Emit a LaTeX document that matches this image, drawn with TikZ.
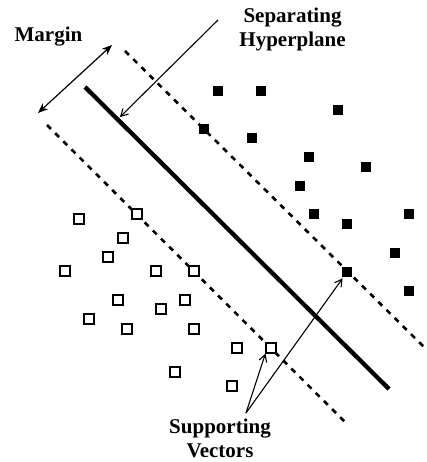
\documentclass[tikz,border=0pt]{standalone}
\usepackage{fontspec}
\setmainfont{Liberation Serif}
\usetikzlibrary{arrows.meta}
\begin{document}
\begin{tikzpicture}[x=1pt,y=-1pt,
  lbl/.style={font=\fontsize{21}{23.5}\selectfont\bfseries, inner sep=0pt, align=center},
  opensq/.style={draw=black, line width=1.2pt, minimum size=10pt, inner sep=0pt, fill=white},
  fullsq/.style={fill=black, minimum size=10.5pt, inner sep=0pt},
  hyper/.style={line width=4.3pt},
  marginline/.style={line width=2.6pt, dash pattern=on 5.5pt off 6pt},
  pointer/.style={line width=1.1pt, -{Straight Barb[length=7pt,width=8pt]}},
  dblarrow/.style={line width=1.2pt, {Stealth[length=10pt,width=8pt,inset=3pt]}-{Stealth[length=10pt,width=8pt,inset=3pt]}}
]
\useasboundingbox (0,0) rectangle (426,462);

% lines
\coordinate (h1) at (85,87);
\coordinate (h2) at (389,389);
\coordinate (u1) at (125,51);
\coordinate (u2) at (425,348);
\coordinate (l1) at (47,125);
\coordinate (l2) at (348,425);
\draw[hyper] (h1) -- (h2);
\draw[marginline] (u1) -- (u2);
\draw[marginline] (l1) -- (l2);

% open squares
\foreach \n/\px/\py in {o1/79/219, o2/137/214, o3/123/238, o4/108/257, o5/65/271,
  o6/156/271, o7/194/271, o8/118/300, o9/185/300, o10/161/309, o11/89/319,
  o12/127/329, o13/194/329, o14/175/372, o15/237/348, o16/271/348, o17/232/386}
  \node[opensq] (\n) at (\px,\py) {};

% filled squares
\foreach \n/\px/\py in {f1/218/91, f2/261/91, f3/338/110, f4/204/129, f5/252/138,
  f6/309/157, f7/366/167, f8/300/186, f9/314/214, f10/347/224, f11/409/214,
  f12/395/253, f13/347/272, f14/409/291}
  \node[fullsq] (\n) at (\px,\py) {};

% labels
\node[lbl, anchor=base] (margin) at (48.5,42) {Margin};
\node[lbl, anchor=north] (sep) at (292.5,8) {Separating\\Hyperplane};
\node[lbl, anchor=north] (sup) at (220,419) {Supporting\\Vectors};

% margin arrow
\coordinate (m1) at (38,113);
\coordinate (m2) at (112,45);
\draw[dblarrow] (m1) -- (m2);

% hyperplane pointer
\coordinate (s1) at (218,20);
\coordinate (s2) at (120,117);
\draw[pointer] (s1) -- (s2);

% support vector pointers
\coordinate (sv) at (246,413);
\draw[pointer] (sv) -- (o16.south west);
\draw[pointer] (sv) -- ([xshift=1pt,yshift=-1pt]f13.south west);
\end{tikzpicture}
\end{document}
